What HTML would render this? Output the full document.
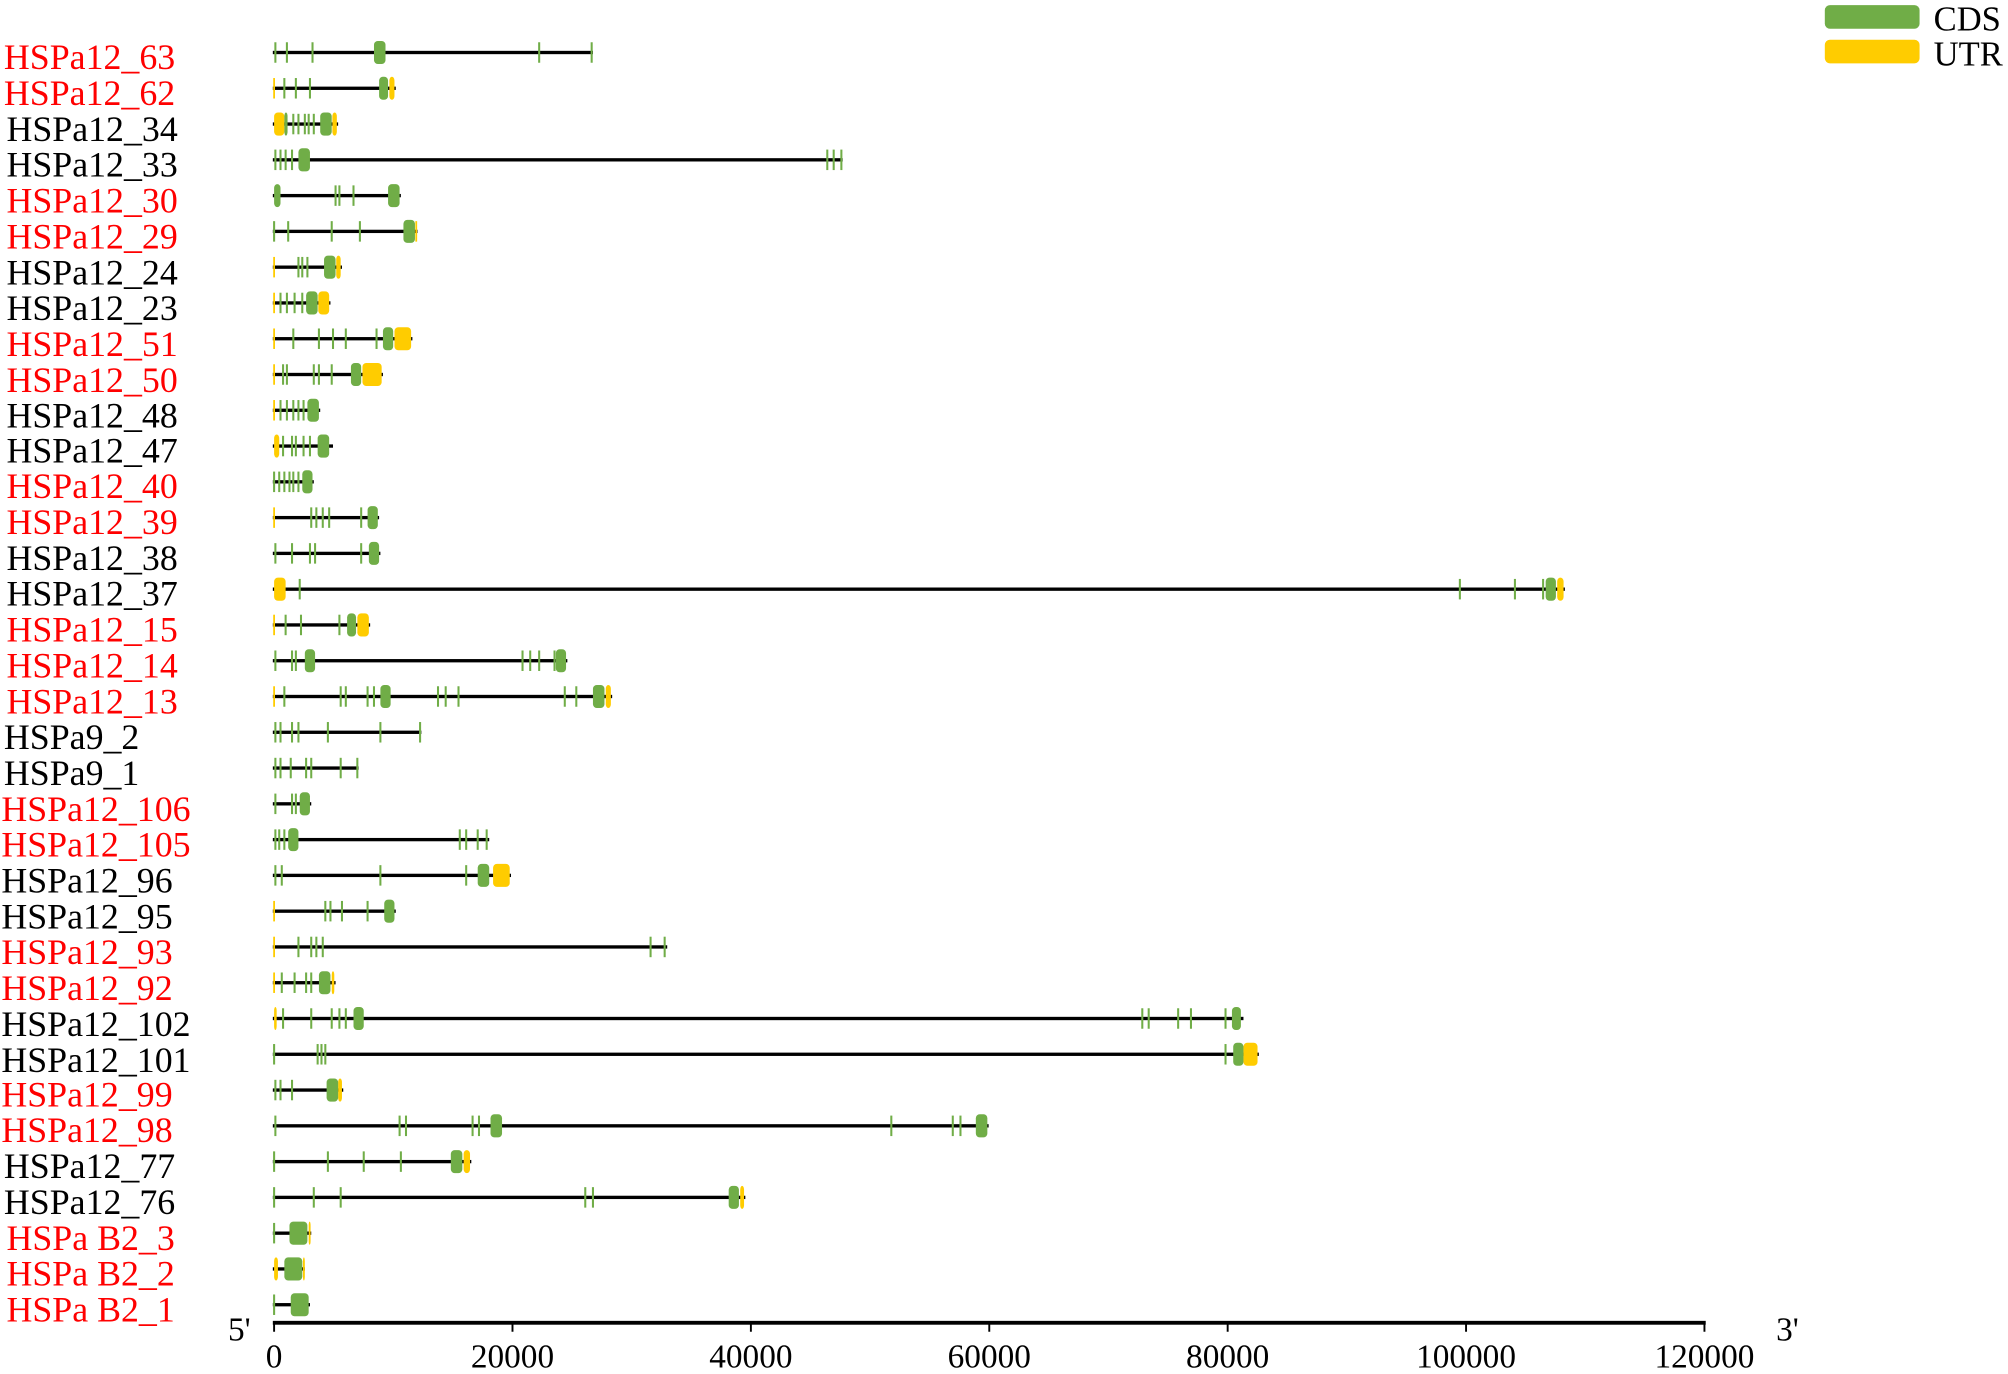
<!DOCTYPE html>
<html><head><meta charset="utf-8"><style>
html,body{margin:0;padding:0;background:#fff;}
svg{display:block;}
</style></head><body>
<svg id="s" width="2008" height="1374" viewBox="0 0 1568 1073" xmlns="http://www.w3.org/2000/svg" font-family="'Liberation Serif', 'Times New Roman', serif">
<rect width="1568" height="1073" fill="#fff"/>
<g id="genes"></g>
<g font-size="28" font-family="'Liberation Serif', serif">
<text x="3" y="54" fill="#ff0000">HSPa12_63</text>
<text x="3" y="82" fill="#ff0000">HSPa12_62</text>
<text x="5" y="110" fill="#000">HSPa12_34</text>
<text x="5" y="138" fill="#000">HSPa12_33</text>
<text x="5" y="166" fill="#ff0000">HSPa12_30</text>
<text x="5" y="194" fill="#ff0000">HSPa12_29</text>
<text x="5" y="222" fill="#000">HSPa12_24</text>
<text x="5" y="250" fill="#000">HSPa12_23</text>
<text x="5" y="278" fill="#ff0000">HSPa12_51</text>
<text x="5" y="306" fill="#ff0000">HSPa12_50</text>
<text x="5" y="334" fill="#000">HSPa12_48</text>
<text x="5" y="361" fill="#000">HSPa12_47</text>
<text x="5" y="389" fill="#ff0000">HSPa12_40</text>
<text x="5" y="417" fill="#ff0000">HSPa12_39</text>
<text x="5" y="445" fill="#000">HSPa12_38</text>
<text x="5" y="473" fill="#000">HSPa12_37</text>
<text x="5" y="501" fill="#ff0000">HSPa12_15</text>
<text x="5" y="529" fill="#ff0000">HSPa12_14</text>
<text x="5" y="557" fill="#ff0000">HSPa12_13</text>
<text x="3" y="585" fill="#000">HSPa9_2</text>
<text x="3" y="613" fill="#000">HSPa9_1</text>
<text x="1" y="641" fill="#ff0000">HSPa12_106</text>
<text x="1" y="669" fill="#ff0000">HSPa12_105</text>
<text x="1" y="697" fill="#000">HSPa12_96</text>
<text x="1" y="725" fill="#000">HSPa12_95</text>
<text x="1" y="753" fill="#ff0000">HSPa12_93</text>
<text x="1" y="781" fill="#ff0000">HSPa12_92</text>
<text x="1" y="809" fill="#000">HSPa12_102</text>
<text x="1" y="837" fill="#000">HSPa12_101</text>
<text x="1" y="864" fill="#ff0000">HSPa12_99</text>
<text x="1" y="892" fill="#ff0000">HSPa12_98</text>
<text x="3" y="920" fill="#000">HSPa12_77</text>
<text x="3" y="948" fill="#000">HSPa12_76</text>
<text x="5" y="976" fill="#ff0000">HSPa B2_3</text>
<text x="5" y="1004" fill="#ff0000">HSPa B2_2</text>
<text x="5" y="1032" fill="#ff0000">HSPa B2_1</text>
</g>
<g id="axis"></g>
<text x="178" y="1047" font-size="26" font-family="'Liberation Serif', serif">5'</text>
<text x="1387" y="1047" font-size="26" font-family="'Liberation Serif', serif">3'</text>
<rect x="1425" y="4" width="74" height="18.5" rx="4" fill="#70ad47"/>
<rect x="1425" y="31" width="74" height="18.5" rx="4" fill="#ffcc00"/>
<text x="1510" y="24" font-size="27" font-family="'Liberation Serif', serif">CDS</text>
<text x="1510" y="51" font-size="27" font-family="'Liberation Serif', serif">UTR</text>
</svg>
<script>
var NS="http://www.w3.org/2000/svg";
var G="#70ad47",Y="#ffcc00";
function el(p,t,a){var e=document.createElementNS(NS,t);for(var k in a)e.setAttribute(k,a[k]);p.appendChild(e);return e;}
var R=[
[463,[215,224,244,421,462],[[292,301]],[],[]],
[309,[222,231,242],[[296,303]],[214],[[304,308]]],
[264,[229,233,238,241,245],[[222,224.5],[250,259]],[],[[214,222],[259.5,263]]],
[658,[215,219,223,228,646,651,657],[[233,242]],[],[]],
[313,[262,265,276],[[214,219],[303,312]],[],[]],
[326,[214,225,259,281],[[315,324]],[325],[]],
[267,[233,236,240],[[253,262]],[214],[[262.5,266]]],
[258,[219,224,230,236],[[239,248]],[214],[[248.5,257]]],
[322,[229,249,260,270,294],[[299,307]],[214],[[308,321]]],
[299,[221,224,245,249,259],[[274,282]],[214],[[283,298]]],
[250,[219,224,229,233,237],[[240,249]],[214],[]],
[260,[221,228,231,237,242],[[248,257]],[],[[214,218]]],
[245,[214,218,222,226,229,233],[[236,244]],[],[]],
[296,[243,247,252,257,282],[[287,295]],[214],[]],
[297,[215,228,242,246,282],[[288,296]],[],[]],
[1222,[234,1140,1183,1205],[[1207,1215]],[],[[214,223],[1216,1221]]],
[289,[223,235,265],[[271,278]],[214],[[279,288]]],
[443,[215,228,231,408,414,421,433],[[238,246],[434,442]],[],[]],
[478,[222,266,270,287,292,342,348,358,441,450],[[297,305],[463,472]],[214],[[473,477]]],
[329,[215,219,228,233,256,297,328],[],[],[]],
[280,[215,219,227,239,243,266,279],[],[],[]],
[243,[215,228,231],[[234,242]],[],[]],
[382,[215,218,222,359,364,373,380],[[225,233]],[],[]],
[399,[215,220,297,364],[[373,382]],[],[[385,398]]],
[309,[254,258,267,287],[[300,308]],[214],[]],
[521,[233,243,247,252,508,519],[],[214],[]],
[262,[220,230,239,243],[[249,258]],[214],[[259,261]]],
[971,[221,243,259,265,270,892,897,920,930,957],[[276,284],[962,969]],[],[[214,216]]],
[983,[214,248,251,254,957],[[963,971]],[],[[971,982]]],
[268,[215,219,228],[[255,264]],[],[[264,267]]],
[772,[215,312,317,369,374,696,744,750],[[383,392],[762,771]],[],[]],
[368,[214,256,284,313],[[352,361]],[],[[362,367]]],
[582,[214,245,266,457,463],[[569,577]],[],[[578,581]]],
[243,[214],[[226,240]],[],[[241,242.5]]],
[238,[],[[222,236]],[],[[214,217],[236.5,238]]],
[242,[214],[[227,241]],[],[]]
];
var g=document.getElementById("genes");
R.forEach(function(r,i){
 var y=41+i*27.94;
 el(g,"rect",{x:213,y:y-1.3,width:r[0]-213,height:2.6,fill:"#000"});
 r[4].forEach(function(b){el(g,"rect",{x:b[0],y:y-9,width:Math.max(b[1]-b[0],1.5),height:18,rx:3,fill:Y});});
 r[3].forEach(function(t){el(g,"rect",{x:t-0.7,y:y-8,width:1.4,height:16,fill:Y});});
 r[1].forEach(function(t){el(g,"rect",{x:t-0.8,y:y-8,width:1.6,height:16,fill:G});});
 r[2].forEach(function(b){el(g,"rect",{x:b[0],y:y-9,width:Math.max(b[1]-b[0],1.5),height:18,rx:3,fill:G});});
});
var a=document.getElementById("axis");
el(a,"rect",{x:213,y:1031.5,width:1119,height:3,fill:"#000"});
for(var k=0;k<=6;k++){
 var x=214+k*(1331-214)/6;
 el(a,"rect",{x:x-0.75,y:1033,width:1.5,height:7,fill:"#000"});
 var t=el(a,"text",{x:x,y:1068,"font-size":"26","text-anchor":"middle","font-family":"'Liberation Serif', serif"});
 t.textContent=String(k*20000);
}
</script>
</body></html>
